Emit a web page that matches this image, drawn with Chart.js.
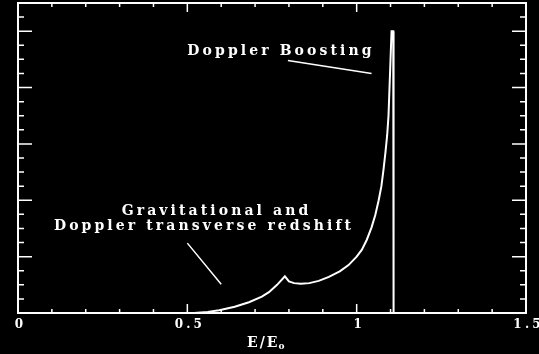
<!DOCTYPE html>
<html>
<head>
<meta charset="utf-8">
<script src="https://cdn.jsdelivr.net/npm/chart.js@4"></script>
<style>
html,body{margin:0;padding:0;background:#000;}
#wrap{width:539px;height:354px;}
</style>
</head>
<body>
<div id="wrap"><canvas id="chart"></canvas></div>
<script>
// E/E0 and line profile
const energy=[0.52,0.56,0.594,0.64,0.682,0.72,0.741,0.765,0.788,0.80,0.815,0.835,0.86,0.888,0.918,0.95,0.976,1.0,1.015,1.03,1.044,1.055,1.065,1.073,1.079,1.085,1.09,1.094,1.097,1.100,1.103,1.108,1.109];
const flux=[0,0.02,0.05,0.11,0.19,0.29,0.37,0.50,0.65,0.56,0.53,0.52,0.53,0.57,0.64,0.74,0.85,1.0,1.12,1.30,1.52,1.74,2.0,2.25,2.53,2.85,3.15,3.5,4.0,4.5,5.0,5.0,0];
const xTickLabels=['0','0.5','1','1.5'];
const xTickValues=[0,0.5,1,1.5];

const notes=[
 {text:'Doppler Boosting',x:0.5,y:4.57},
 {text:'Gravitational and',x:0.306,y:1.73},
 {text:'Doppler transverse redshift',x:0.106,y:1.47}
];
const pointers=[
 [0.797,4.48,1.044,4.25],
 [0.5,1.24,0.6,0.51]
];

function spaced(ctx,txt,x,y,sp,align){
 ctx.letterSpacing=sp+'px';
 let w=ctx.measureText(txt).width-sp;
 let x0=align=='center'?x-w/2:x;
 ctx.textAlign='left';
 ctx.fillText(txt,x0,y);
 return x0+w;
}

const frame={
 id:'frame',
 afterDatasetsDraw(c){
  const ctx=c.ctx,a=c.chartArea,xs=c.scales.x,ys=c.scales.y;
  ctx.save();
  ctx.strokeStyle='#fff';ctx.fillStyle='#fff';
  ctx.lineWidth=2;
  ctx.strokeRect(a.left,a.top,a.right-a.left,a.bottom-a.top);
  ctx.lineWidth=1.5;
  ctx.beginPath();
  for(let i=0;i<=15;i++){
   let v=i/10,px=xs.getPixelForValue(v),len=(i%5==0)?9:4;
   ctx.moveTo(px,a.bottom);ctx.lineTo(px,a.bottom-len);
   ctx.moveTo(px,a.top);ctx.lineTo(px,a.top+len);
  }
  for(let i=0;i<=22;i++){
   let v=i/4,py=ys.getPixelForValue(v),len=(i%4==0)?14:6;
   ctx.moveTo(a.left,py);ctx.lineTo(a.left+len,py);
   ctx.moveTo(a.right,py);ctx.lineTo(a.right-len,py);
  }
  ctx.stroke();
  // pointer lines
  ctx.beginPath();
  pointers.forEach(p=>{
   ctx.moveTo(xs.getPixelForValue(p[0]),ys.getPixelForValue(p[1]));
   ctx.lineTo(xs.getPixelForValue(p[2]),ys.getPixelForValue(p[3]));
  });
  ctx.stroke();
  // annotations
  ctx.font='bold 14px "DejaVu Serif"';
  ctx.textBaseline='alphabetic';
  notes.forEach(n=>spaced(ctx,n.text,xs.getPixelForValue(n.x),ys.getPixelForValue(n.y),3.1,'left'));
  // tick labels
  ctx.font='bold 12px "DejaVu Serif"';
  ctx.textBaseline='middle';
  xTickValues.forEach((v,i)=>spaced(ctx,xTickLabels[i],xs.getPixelForValue(v)+1,a.bottom+12,3.2,'center'));
  // axis title
  ctx.textBaseline='alphabetic';
  ctx.font='bold 14px "DejaVu Serif"';
  let cx=(a.left+a.right)/2-5;
  let end=spaced(ctx,'E/E',cx-20,a.bottom+34,2,'left');
  ctx.font='bold 9px "DejaVu Serif"';
  spaced(ctx,'o',end+1,a.bottom+36,0,'left');
  ctx.restore();
 }
};

new Chart(document.getElementById('chart'),{
 type:'line',
 data:{datasets:[{data:energy.map((e,i)=>({x:e,y:flux[i]})),borderColor:'#fff',borderWidth:2,pointRadius:0,tension:0,fill:false}]},
 options:{
  responsive:true,maintainAspectRatio:false,animation:false,
  layout:{padding:{left:18,right:13,top:3,bottom:41}},
  plugins:{legend:{display:false},tooltip:{enabled:false}},
  scales:{
   x:{type:'linear',min:0,max:1.5,display:false},
   y:{type:'linear',min:0,max:5.5,display:false}
  }
 },
 plugins:[frame]
});
</script>
</body>
</html>
